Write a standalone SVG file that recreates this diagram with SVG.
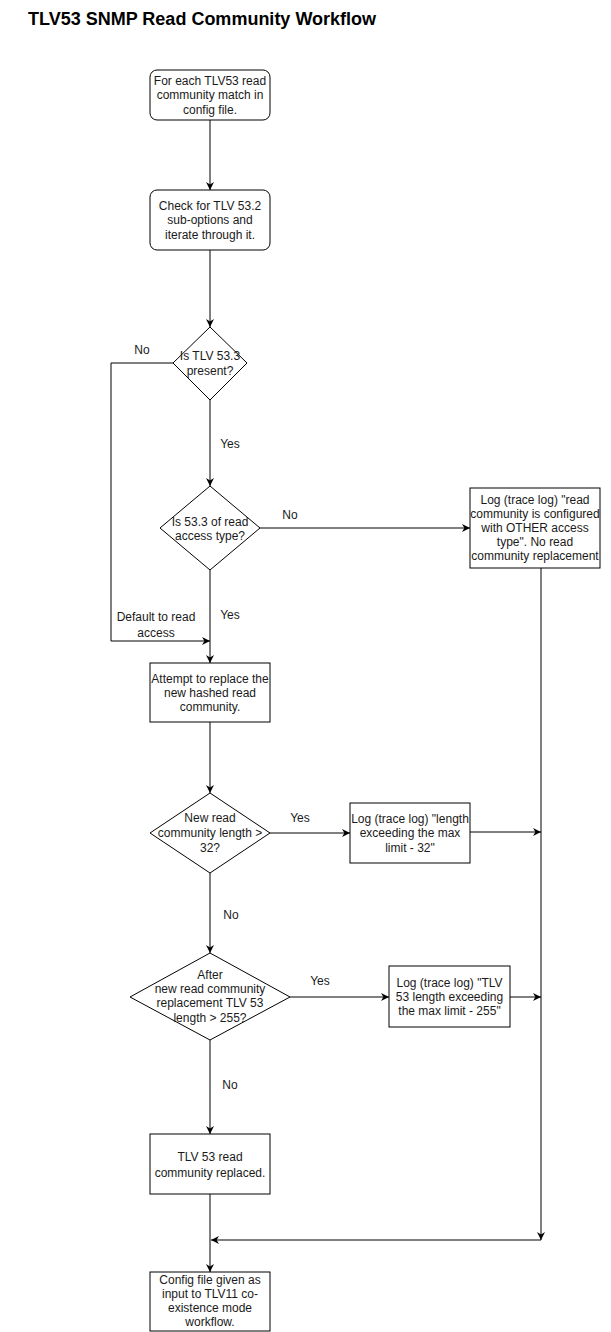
<svg xmlns="http://www.w3.org/2000/svg" width="611" height="1332" viewBox="0 0 611 1332">
<style>
.shape{fill:#ffffff;stroke:#000000;stroke-width:1}
.edge{fill:none;stroke:#000000;stroke-width:1}
text{font-family:"Liberation Sans",Arial,sans-serif;font-size:12px;fill:#1a1a1a;text-anchor:middle}
.title{font-size:18px;font-weight:bold;text-anchor:start;fill:#000000}
</style>
<defs>
<marker id="arr" viewBox="0 0 10 10" refX="10" refY="5" markerWidth="8" markerHeight="8" markerUnits="userSpaceOnUse" orient="auto">
<path d="M0,0 L10,5 L0,10 L3,5 Z" fill="#000000"/>
</marker>
</defs>
<rect width="611" height="1332" fill="#ffffff"/>
<text class="title" x="28" y="25">TLV53 SNMP Read Community Workflow</text>

<g id="connectors">
<path class="edge" d="M210,120 L210,190" marker-end="url(#arr)"/>
<path class="edge" d="M210,250 L210,327" marker-end="url(#arr)"/>
<path class="edge" d="M210,400 L210,486" marker-end="url(#arr)"/>
<path class="edge" d="M173,363 L111,363 L111,641 L210,641" marker-end="url(#arr)"/>
<path class="edge" d="M260,528 L470,528" marker-end="url(#arr)"/>
<path class="edge" d="M210,570 L210,663" marker-end="url(#arr)"/>
<path class="edge" d="M210,722 L210,793" marker-end="url(#arr)"/>
<path class="edge" d="M270,833 L350,833" marker-end="url(#arr)"/>
<path class="edge" d="M470,832 L541,832" marker-end="url(#arr)"/>
<path class="edge" d="M210,873 L210,953" marker-end="url(#arr)"/>
<path class="edge" d="M290,997 L389,997" marker-end="url(#arr)"/>
<path class="edge" d="M510,997 L541,997" marker-end="url(#arr)"/>
<path class="edge" d="M210,1040 L210,1134" marker-end="url(#arr)"/>
<path class="edge" d="M541,568 L541,1240" marker-end="url(#arr)"/>
<path class="edge" d="M541,1240 L211,1240" marker-end="url(#arr)"/>
<path class="edge" d="M210,1194 L210,1272" marker-end="url(#arr)"/>
<text x="142" y="354">No</text>
<text x="230" y="448">Yes</text>
<text x="290" y="519">No</text>
<text x="230" y="619">Yes</text>
<text x="156" y="621">Default to read</text>
<text x="156" y="637">access</text>
<text x="300" y="822">Yes</text>
<text x="231" y="919">No</text>
<text x="320" y="985">Yes</text>
<text x="230" y="1089">No</text>
</g>

<g id="n1">
<rect class="shape" x="150" y="70" width="120" height="50" rx="7"/>
<text x="210" y="85">For each TLV53 read</text>
<text x="210" y="99">community match in</text>
<text x="210" y="114">config file.</text>
</g>
<g id="n2">
<rect class="shape" x="150" y="190" width="120" height="60" rx="7"/>
<text x="210" y="210">Check for TLV 53.2</text>
<text x="210" y="224">sub-options and</text>
<text x="210" y="239">iterate through it.</text>
</g>
<g id="d1">
<path class="shape" d="M210,327 L247,363 L210,400 L173,363 Z"/>
<text x="210" y="360">Is TLV 53.3</text>
<text x="210" y="375">present?</text>
</g>
<g id="d2">
<path class="shape" d="M210,486 L260,528 L210,570 L160,528 Z"/>
<text x="210" y="526">Is 53.3 of read</text>
<text x="210" y="540">access type?</text>
</g>
<g id="n_other">
<rect class="shape" x="470" y="488" width="130" height="80"/>
<text x="535" y="504">Log (trace log) "read</text>
<text x="535" y="518">community is configured</text>
<text x="535" y="532">with OTHER access</text>
<text x="535" y="546">type". No read</text>
<text x="535" y="560">community replacement</text>
</g>
<g id="n3">
<rect class="shape" x="150" y="663" width="120" height="59"/>
<text x="210" y="683">Attempt to replace the</text>
<text x="210" y="697">new hashed read</text>
<text x="210" y="711">community.</text>
</g>
<g id="d3">
<path class="shape" d="M210,793 L270,833 L210,873 L150,833 Z"/>
<text x="210" y="822">New read</text>
<text x="210" y="837">community length &gt;</text>
<text x="210" y="852">32?</text>
</g>
<g id="n4">
<rect class="shape" x="350" y="803" width="120" height="60"/>
<text x="410" y="823">Log (trace log) "length</text>
<text x="410" y="837">exceeding the max</text>
<text x="410" y="852">limit - 32"</text>
</g>
<g id="d4">
<path class="shape" d="M210,953 L290,997 L210,1040 L130,997 Z"/>
<text x="210" y="979">After</text>
<text x="210" y="993">new read community</text>
<text x="210" y="1007">replacement TLV 53</text>
<text x="210" y="1022">length &gt; 255?</text>
</g>
<g id="n5">
<rect class="shape" x="389" y="966" width="121" height="61"/>
<text x="449.5" y="987">Log (trace log) "TLV</text>
<text x="449.5" y="1001">53 length exceeding</text>
<text x="449.5" y="1015">the max limit - 255"</text>
</g>
<g id="n6">
<rect class="shape" x="150" y="1134" width="120" height="60"/>
<text x="210" y="1161">TLV 53 read</text>
<text x="210" y="1177">community replaced.</text>
</g>
<g id="n7">
<rect class="shape" x="150" y="1272" width="120" height="59"/>
<text x="210" y="1284">Config file given as</text>
<text x="210" y="1298">input to TLV11 co-</text>
<text x="210" y="1312">existence mode</text>
<text x="210" y="1326">workflow.</text>
</g>
</svg>
